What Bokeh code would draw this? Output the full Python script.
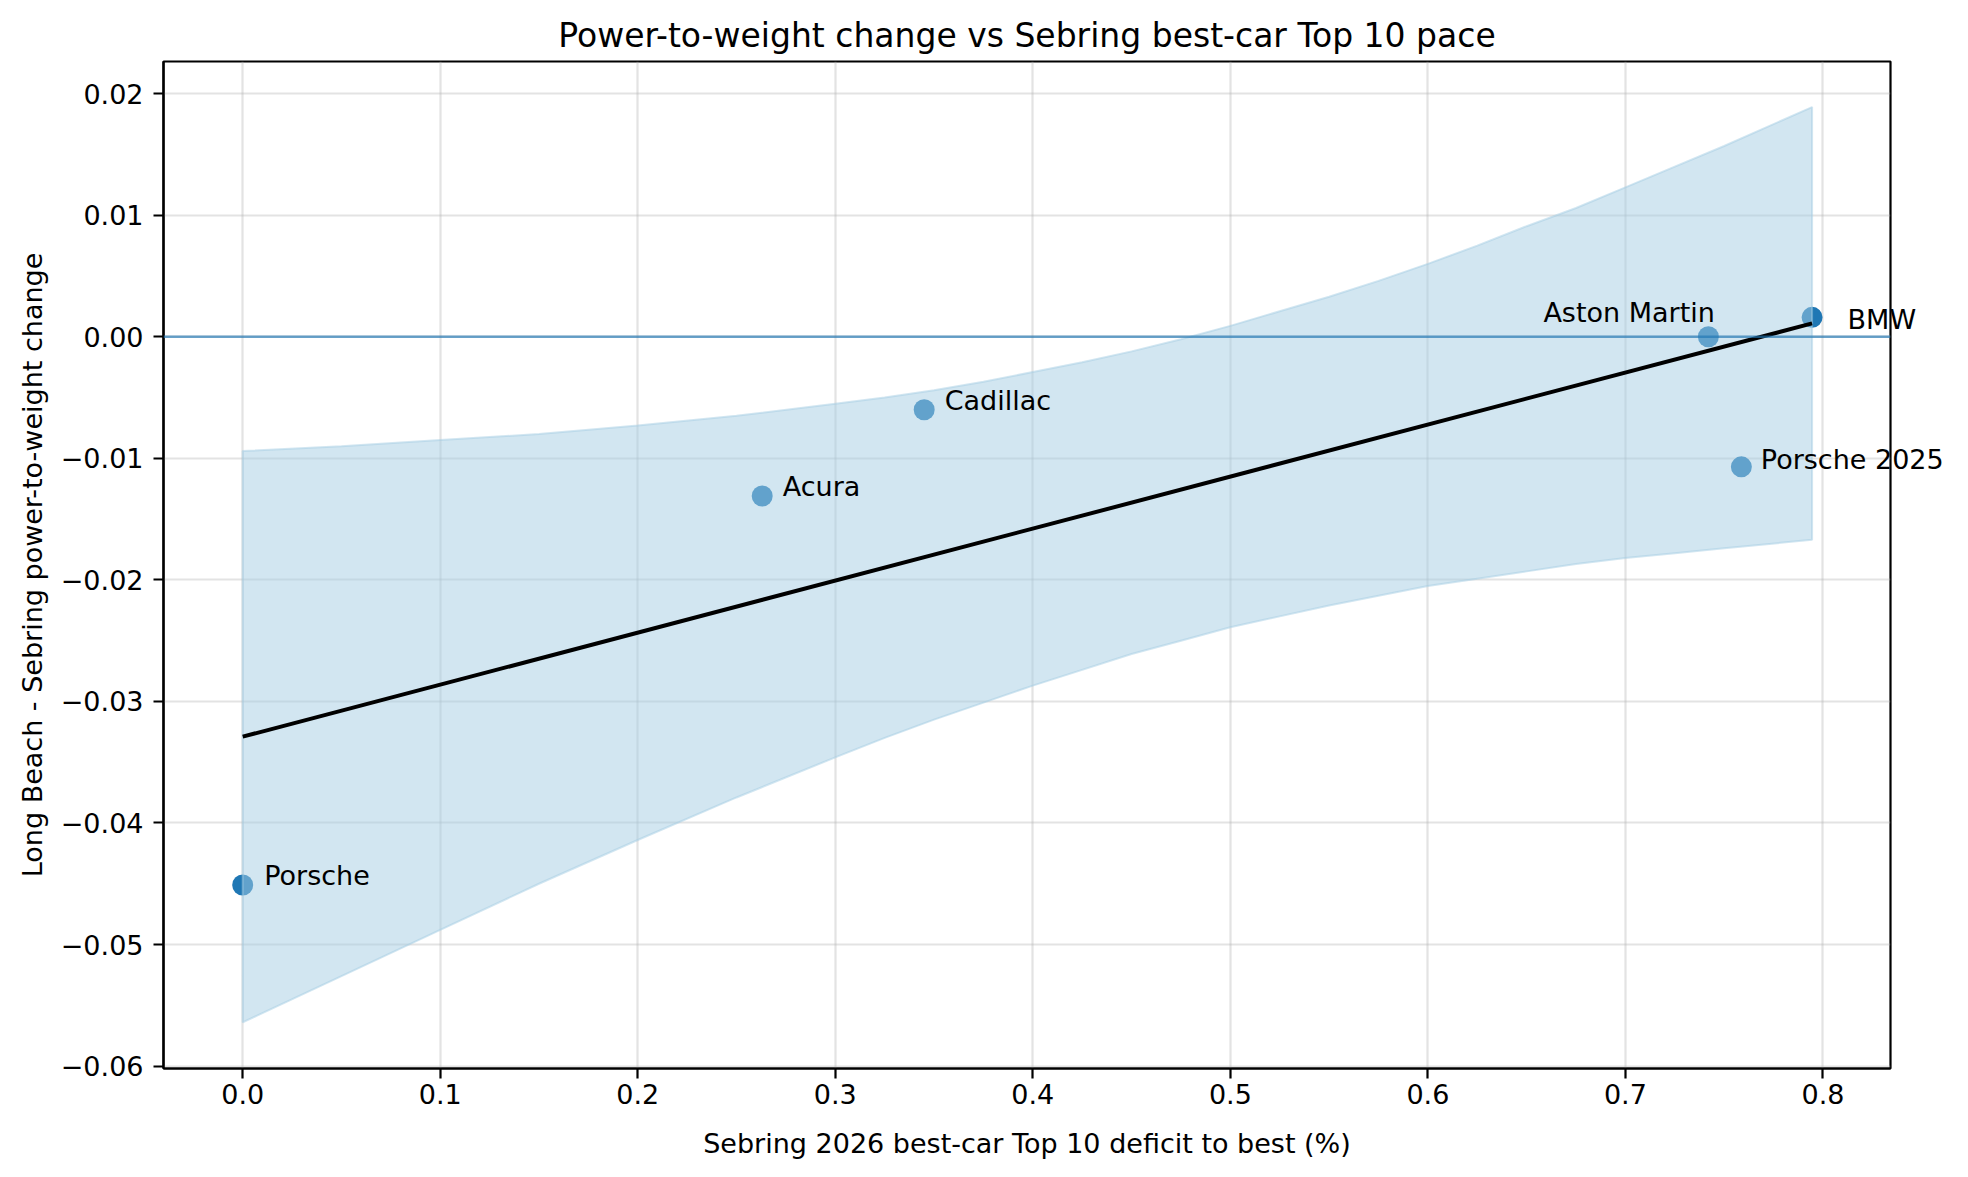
from bokeh.plotting import figure
from bokeh.models import Range1d, Span, ColumnDataSource, CustomJSTickFormatter, FixedTicker, LabelSet
from bokeh.core.properties import value
from bokeh.embed import file_html
from bokeh.resources import INLINE
try:
    from bokeh.models import HTMLLabelSet as LabelCls
except Exception:
    LabelCls = LabelSet

# ---- data ----
teams = ["Porsche", "Acura", "Cadillac", "Aston Martin", "Porsche 2025", "BMW"]
deficit = [0.0, 0.263, 0.345, 0.742, 0.7587, 0.7945]
pw_change = [-0.0451, -0.0131, -0.0060, 0.0000, -0.0107, 0.0016]

fit_x = [0.0, 0.7945]
fit_y = [-0.0329, 0.0011]

band_x = [0.0, 0.05, 0.1, 0.15, 0.2, 0.25, 0.3, 0.325, 0.35, 0.375, 0.4, 0.425, 0.45, 0.475,
          0.5, 0.525, 0.55, 0.575, 0.6, 0.625, 0.65, 0.675, 0.7, 0.725, 0.75, 0.7945]
band_upper = [-0.0094, -0.0090, -0.0085, -0.0080, -0.0073, -0.0065, -0.0055, -0.0050, -0.0044, -0.0037,
              -0.0029, -0.0021, -0.0012, -0.0002, 0.0009, 0.0021, 0.0033, 0.0046, 0.0060, 0.0075,
              0.0091, 0.0106, 0.0123, 0.0140, 0.0157, 0.0189]
band_lower = [-0.0564, -0.0526, -0.0488, -0.0450, -0.0414, -0.0379, -0.0346, -0.0330, -0.0315, -0.0301,
              -0.0287, -0.0274, -0.0261, -0.0250, -0.0239, -0.0230, -0.0221, -0.0213, -0.0205, -0.0199,
              -0.0193, -0.0187, -0.0182, -0.0178, -0.0174, -0.0167]

x_ticks = [0.0, 0.1, 0.2, 0.3, 0.4, 0.5, 0.6, 0.7, 0.8]
y_ticks = [-0.06, -0.05, -0.04, -0.03, -0.02, -0.01, 0.0, 0.01, 0.02]

title_text = "Power-to-weight change vs Sebring best-car Top 10 pace"
x_label = "Sebring 2026 best-car Top 10 deficit to best (%)"
y_label = "Long Beach - Sebring power-to-weight change"

# ---- label placement styles (screen px, dy positive = up) ----
label_dx = [22, 21, 21, 7, 20, 36]
label_dy = [9, 10, 9, 24, 7, -2]
label_align = ["left", "left", "left", "right", "left", "left"]

FONT = "DejaVu Sans"
C0 = "#1f77b4"

p = figure(width=1952, height=1161, output_backend="svg", toolbar_location=None,
           x_range=Range1d(-0.0401, 0.8342), y_range=Range1d(-0.0602, 0.02265),
           min_border_left=163, min_border_right=62, min_border_top=61, min_border_bottom=93,
           title=title_text)
p.background_fill_color = "white"
p.border_fill_color = "white"
p.outline_line_color = "black"
p.outline_line_width = 2.2
p.outline_line_alpha = 1.0

p.title.text_font = FONT
p.title.text_font_size = "33px"
p.title.text_font_style = "normal"
p.title.text_color = "black"
p.title.align = "center"
p.title.standoff = 13

p.xaxis.ticker = FixedTicker(ticks=x_ticks)
p.yaxis.ticker = FixedTicker(ticks=y_ticks)
p.xaxis.formatter = CustomJSTickFormatter(code="""
    const s = Math.abs(tick).toFixed(1);
    return (tick < -1e-9 ? '\\u2212' : '') + s;
""")
p.yaxis.formatter = CustomJSTickFormatter(code="""
    const s = Math.abs(tick).toFixed(2);
    return (tick < -1e-9 ? '\\u2212' : '') + s;
""")
p.xaxis.axis_label = x_label
p.yaxis.axis_label = y_label
for ax in (p.xaxis, p.yaxis):
    ax.axis_line_width = 2.2
    ax.axis_line_color = "black"
    ax.major_tick_line_width = 2.2
    ax.major_tick_line_color = "black"
    ax.major_tick_out = 10
    ax.major_tick_in = 0
    ax.minor_tick_out = 0
    ax.minor_tick_in = 0
    ax.major_label_text_font = FONT
    ax.major_label_text_font_size = "27px"
    ax.major_label_text_color = "black"
    ax.axis_label_text_font = FONT
    ax.axis_label_text_font_size = "27px"
    ax.axis_label_text_font_style = "normal"
    ax.axis_label_text_color = "black"
p.xaxis.major_label_standoff = 5
p.xaxis.axis_label_standoff = 21
p.yaxis.major_label_standoff = 10
p.yaxis.axis_label_standoff = 10

p.grid.grid_line_color = "#b0b0b0"
p.grid.grid_line_alpha = 0.35
p.grid.grid_line_width = 2.2

# scatter (drawn under the band, as in the reference)
src = ColumnDataSource(dict(x=deficit, y=pw_change, name=teams,
                            dx=label_dx, dy=label_dy, align=label_align))
p.scatter("x", "y", source=src, size=21, fill_color=C0, fill_alpha=1.0, line_color=None)

# confidence band
poly_x = band_x + band_x[::-1]
poly_y = band_upper + band_lower[::-1]
p.patch(poly_x, poly_y, fill_color="#a6cee3", fill_alpha=0.5,
        line_color="#a6cee3", line_alpha=0.5, line_width=2)

# zero line
p.add_layout(Span(location=0, dimension="width", line_color=C0, line_alpha=0.65, line_width=2.6))

# fit line
p.line(fit_x, fit_y, line_color="black", line_width=4)

# point labels (may extend past the right spine, as in the reference)
labels = LabelCls(x="x", y="y", text="name", source=src, x_offset="dx", y_offset="dy",
                  text_align="align", text_baseline="middle",
                  text_font=value(FONT), text_font_size="27px", text_color="black")
p.add_layout(labels)

open("out.html", "w").write(file_html(p, INLINE))
